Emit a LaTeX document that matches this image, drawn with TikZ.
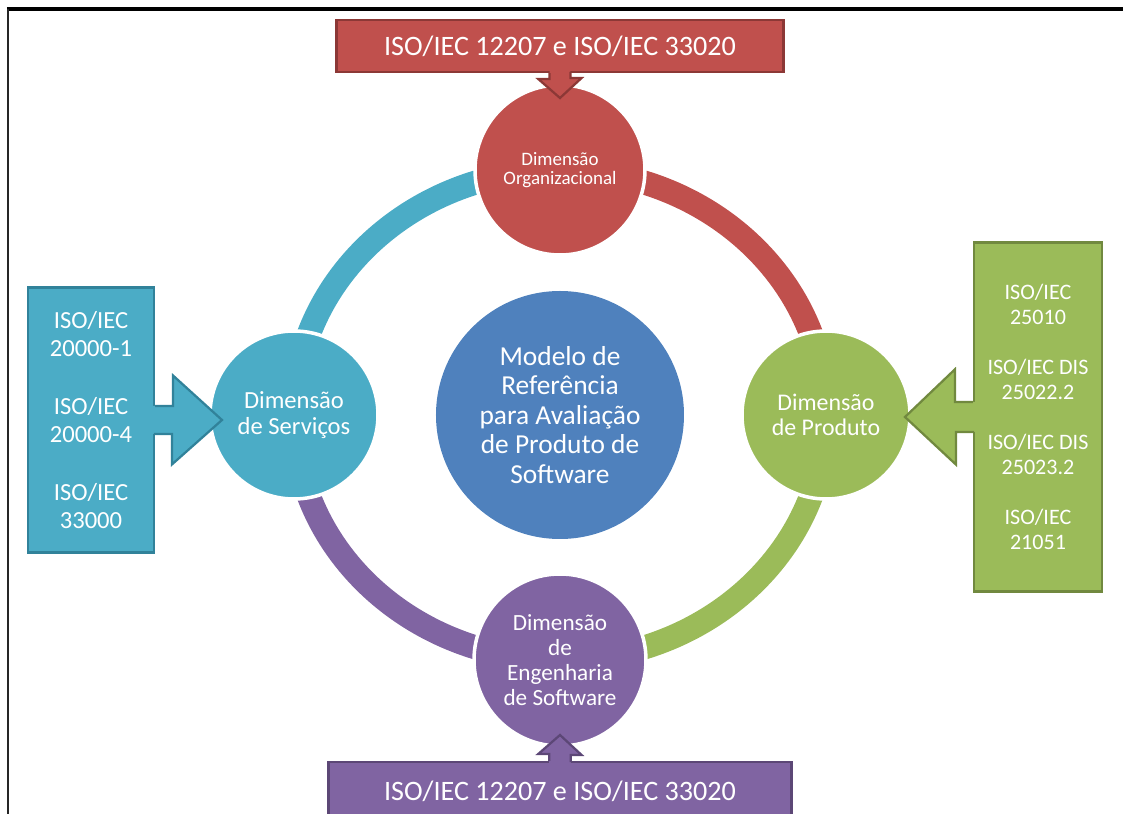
\documentclass[tikz,border=0pt]{standalone}
\usepackage{fontspec}
\setmainfont{Carlito}
\usepackage{tikz}

\definecolor{orgred}{HTML}{C0504D}
\definecolor{orgline}{HTML}{8C3836}
\definecolor{srvteal}{HTML}{4BACC6}
\definecolor{srvline}{HTML}{31829A}
\definecolor{prdgreen}{HTML}{9BBB59}
\definecolor{prdline}{HTML}{71893F}
\definecolor{engpurple}{HTML}{8064A2}
\definecolor{engline}{HTML}{5C4776}
\definecolor{modblue}{HTML}{4F81BD}

\tikzset{
    dim/.style={shape=circle, draw=white, line width=2.5pt, text=white, align=center, inner sep=0pt},
    isobox/.style={shape=rectangle, line width=1.6pt, text=white, align=center, inner sep=0pt},
    ring/.style={line width=0.6cm},
    arrowline/.style={line width=1.6pt, line join=miter}
}

\begin{document}
\begin{tikzpicture}
                        \useasboundingbox (-14,-9.975) rectangle (14.075,10.375);

                        % frame
                        \draw[line width=2.2pt] (-13.83,10.15) -- (14.2,10.15);
                        \draw[line width=1.6pt, black!85] (-13.8,10.15) -- (-13.8,-10.1);

                        % ring
                        \draw[ring, orgred] (6.65,0) arc[start angle=0, end angle=90, x radius=6.65cm, y radius=6.125cm];
                        \draw[ring, srvteal] (0,6.125) arc[start angle=90, end angle=180, x radius=6.65cm, y radius=6.125cm];
                        \draw[ring, engpurple] (-6.65,0) arc[start angle=180, end angle=270, x radius=6.65cm, y radius=6.125cm];
                        \draw[ring, prdgreen] (0,-6.125) arc[start angle=270, end angle=360, x radius=6.65cm, y radius=6.125cm];

                        % circles
                        \node[fill=modblue] (modelo) at (0,0) [dim, draw=none, minimum size=6.2cm, font=\fontsize{19.5pt}{21pt}\selectfont] {Modelo de\\Referência\\para Avaliação\\de Produto de\\Software};
                        \node[fill=orgred] (org) at (0,6.125) [dim, minimum size=4.25cm, font=\fontsize{13.5pt}{13.5pt}\selectfont] {Dimensão\\Organizacional};
                        \node[fill=srvteal] (srv) at (-6.65,0) [dim, minimum size=4.2cm, font=\fontsize{17.5pt}{18.5pt}\selectfont] {Dimensão\\de Serviços};
                        \node[fill=prdgreen] (prd) at (6.65,0) [dim, minimum size=4.2cm, font=\fontsize{17pt}{17.5pt}\selectfont] {Dimensão\\de Produto};
                        \node[fill=engpurple] (eng) at (0,-6.125) [dim, minimum size=4.3cm, font=\fontsize{16.5pt}{17.8pt}\selectfont] {Dimensão\\de\\Engenharia\\de Software};

                        % boxes
                        \node[fill=orgred, draw=orgline] (orgbox) at (0,9.225) [isobox, minimum width=11.175cm, minimum height=1.3cm, font=\fontsize{20pt}{24pt}\selectfont] {ISO/IEC 12207 e ISO/IEC 33020};
                        \node[fill=engpurple, draw=engline] (engbox) at (0,-9.4) [isobox, minimum width=11.575cm, minimum height=1.45cm, font=\fontsize{20pt}{24pt}\selectfont] {ISO/IEC 12207 e ISO/IEC 33020};
                        \node[fill=srvteal, draw=srvline] (srvbox) at (-11.725,-0.125) [isobox, minimum width=3.15cm, minimum height=6.625cm, font=\fontsize{17.5pt}{19.9pt}\selectfont] {ISO/IEC\\20000-1\\[0.75cm]ISO/IEC\\20000-4\\[0.75cm]ISO/IEC\\33000};
                        \node[fill=prdgreen, draw=prdline] (prdbox) at (11.95,-0.05) [isobox, minimum width=3.2cm, minimum height=8.725cm, font=\fontsize{15.7pt}{17.7pt}\selectfont] {ISO/IEC\\25010\\[0.625cm]ISO/IEC DIS\\25022.2\\[0.625cm]ISO/IEC DIS\\25023.2\\[0.625cm]ISO/IEC\\21051};

                        % block arrows
                        \coordinate (orgtip) at (0,7.925);
                        \coordinate (engtip) at (0,-8.0);
                        \coordinate (srvtip) at (-8.45,-0.125);
                        \coordinate (prdtip) at (8.625,-0.05);

                        \fill[orgred] ([xshift=-2.6mm, yshift=1mm]orgbox.south) -- ++(0,-2.5mm) -- ++(-2.8mm,0) -- (orgtip) -- ++(5.4mm,5mm) -- ++(-2.8mm,0) -- ++(0,2.5mm) -- cycle;
                        \draw[arrowline, orgline] ([xshift=-2.6mm]orgbox.south) -- ++(0,-1.5mm) -- ++(-2.8mm,0) -- (orgtip) -- ++(5.4mm,5mm) -- ++(-2.8mm,0) -- ++(0,1.5mm);

                        \fill[engpurple] ([xshift=-2.7mm, yshift=-1mm]engbox.north) -- ++(0,2.75mm) -- ++(-2.7mm,0) -- (engtip) -- ++(5.4mm,-5mm) -- ++(-2.7mm,0) -- ++(0,-2.75mm) -- cycle;
                        \draw[arrowline, engline] ([xshift=-2.7mm]engbox.north) -- ++(0,1.75mm) -- ++(-2.7mm,0) -- (engtip) -- ++(5.4mm,-5mm) -- ++(-2.7mm,0) -- ++(0,-1.75mm);

                        \fill[srvteal] ([xshift=-1mm, yshift=3.5mm]srvbox.east) -- ++(5.5mm,0) -- ++(0,7.6mm) -- (srvtip) -- ++(-12.5mm,-11.1mm) -- ++(0,7.6mm) -- ++(-5.5mm,0) -- cycle;
                        \draw[arrowline, srvline] ([yshift=3.5mm]srvbox.east) -- ++(4.5mm,0) -- ++(0,7.6mm) -- (srvtip) -- ++(-12.5mm,-11.1mm) -- ++(0,7.6mm) -- ++(-4.5mm,0);

                        \fill[prdgreen] ([xshift=1mm, yshift=3.75mm]prdbox.west) -- ++(-5.5mm,0) -- ++(0,8.15mm) -- (prdtip) -- ++(12.75mm,-11.9mm) -- ++(0,8.15mm) -- ++(5.5mm,0) -- cycle;
                        \draw[arrowline, prdline] ([yshift=3.75mm]prdbox.west) -- ++(-4.5mm,0) -- ++(0,8.15mm) -- (prdtip) -- ++(12.75mm,-11.9mm) -- ++(0,8.15mm) -- ++(4.5mm,0);
\end{tikzpicture}
\end{document}
